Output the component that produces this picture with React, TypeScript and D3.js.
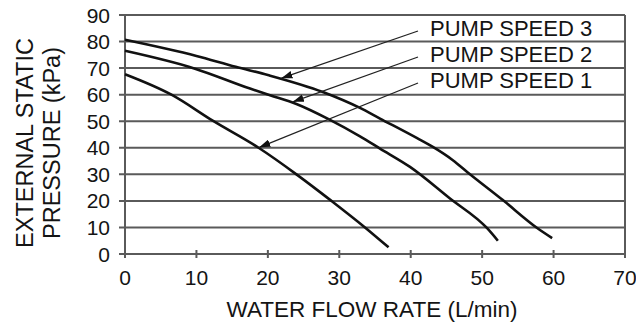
import { useEffect, useRef } from 'react'
import * as d3 from 'd3'

// flow rate (L/min) and pressure (kPa)
const flow1 = [0, 6.5, 12.4, 18.7, 24, 28.9, 33.6, 36.9]
const speed1 = [67.7, 60, 50, 40, 30, 20, 10, 2.5]

const flow2 = [0, 9.8, 17.5, 20.3, 24, 28.5, 32.9, 35.7, 39.9, 45.5, 50.7, 52.2]
const speed2 = [76.5, 69.8, 62.3, 59.8, 56.5, 50.8, 44.3, 39.7, 32.8, 20.9, 9.7, 5]

const flow3 = [0, 10, 15.5, 20, 27.7, 32.9, 35.7, 40.9, 43.1, 45.9, 47.9, 52.9, 57.7, 59.8]
const speed3 = [80.7, 74.6, 70.5, 67.4, 61, 55, 51, 43.6, 40.3, 35.3, 30.9, 20.3, 9.8, 6]

const labels = ['PUMP SPEED 3', 'PUMP SPEED 2', 'PUMP SPEED 1']
const arrowAt = [21.9, 23.5, 18.8] // flow where each leader hits its curve

const xTicks = [0, 10, 20, 30, 40, 50, 60, 70]
const yTicks = [0, 10, 20, 30, 40, 50, 60, 70, 80, 90]

const FONT = '"Liberation Sans", Arial, Helvetica, sans-serif'

const App = () => {
	const svgRef = useRef(null)

	useEffect(() => {
		const width = 636
		const height = 329
		const margin = { top: 15, right: 11, bottom: 75, left: 125 }

		const svg = d3.select(svgRef.current)
		svg.selectAll('*').remove()

		const x = d3.scaleLinear().domain([0, 70]).range([margin.left, width - margin.right])
		const y = d3.scaleLinear().domain([0, 90]).range([height - margin.bottom, margin.top])

		const grid = '#5a5a5a'
		const ink = '#141414'

		// horizontal grid lines (extend a bit left of the axis as ticks)
		svg
			.append('g')
			.selectAll('line')
			.data(yTicks)
			.join('line')
			.attr('x1', x(0) - 6)
			.attr('x2', x(70))
			.attr('y1', (d) => y(d))
			.attr('y2', (d) => y(d))
			.attr('stroke', grid)
			.attr('stroke-width', 2)

		// left axis + right border
		;[0, 70].forEach((v) => {
			svg
				.append('line')
				.attr('x1', x(v))
				.attr('x2', x(v))
				.attr('y1', y(90))
				.attr('y2', y(0) + 4)
				.attr('stroke', grid)
				.attr('stroke-width', 2)
		})

		// x ticks crossing the axis
		svg
			.append('g')
			.selectAll('line')
			.data(xTicks)
			.join('line')
			.attr('x1', (d) => x(d))
			.attr('x2', (d) => x(d))
			.attr('y1', y(0) - 4)
			.attr('y2', y(0) + 4)
			.attr('stroke', grid)
			.attr('stroke-width', 2)

		// tick labels
		svg
			.append('g')
			.selectAll('text')
			.data(yTicks)
			.join('text')
			.attr('x', x(0) - 15)
			.attr('y', (d) => y(d) + 7.5)
			.attr('text-anchor', 'end')
			.attr('font-size', 21)
			.attr('font-family', FONT)
			.attr('fill', ink)
			.text((d) => d)

		svg
			.append('g')
			.selectAll('text')
			.data(xTicks)
			.join('text')
			.attr('x', (d) => x(d))
			.attr('y', y(0) + 31)
			.attr('text-anchor', 'middle')
			.attr('font-size', 21)
			.attr('font-family', FONT)
			.attr('fill', ink)
			.text((d) => d)

		// axis titles
		svg
			.append('text')
			.attr('x', (x(0) + x(70)) / 2 - 3)
			.attr('y', 317)
			.attr('text-anchor', 'middle')
			.attr('font-size', 22.5)
			.attr('font-family', FONT)
			.attr('fill', ink)
			.text('WATER FLOW RATE (L/min)')

		const yTitle = svg
			.append('text')
			.attr('transform', 'translate(33,143) rotate(-90)')
			.attr('text-anchor', 'middle')
			.attr('font-size', 23.5)
			.attr('font-family', FONT)
			.attr('fill', ink)
		yTitle.append('tspan').attr('x', 0).attr('y', 0).text('EXTERNAL STATIC')
		yTitle.append('tspan').attr('x', 0).attr('y', 27).text('PRESSURE (kPa)')

		// curves
		const series = [
			{ xs: flow3, ys: speed3 },
			{ xs: flow2, ys: speed2 },
			{ xs: flow1, ys: speed1 },
		]
		const line = d3
			.line()
			.x((d) => x(d[0]))
			.y((d) => y(d[1]))
			.curve(d3.curveMonotoneX)

		series.forEach((s) => {
			svg
				.append('path')
				.datum(s.xs.map((v, i) => [v, s.ys[i]]))
				.attr('d', line)
				.attr('fill', 'none')
				.attr('stroke', '#111')
				.attr('stroke-width', 2.6)
		})

		// arrowhead
		svg
			.append('defs')
			.append('marker')
			.attr('id', 'arrow')
			.attr('viewBox', '0 -4 11 8')
			.attr('refX', 11)
			.attr('refY', 0)
			.attr('markerWidth', 11)
			.attr('markerHeight', 8)
			.attr('markerUnits', 'userSpaceOnUse')
			.attr('orient', 'auto')
			.append('path')
			.attr('d', 'M0,-3.8L11,0L0,3.8Z')
			.attr('fill', '#111')

		// labels + leaders
		const baselines = [36, 62, 88]
		labels.forEach((lab, i) => {
			svg
				.append('text')
				.attr('x', 430)
				.attr('y', baselines[i])
				.attr('font-size', 22)
				.attr('font-family', FONT)
				.attr('fill', ink)
				.text(lab)

			const s = series[i]
			const fx = arrowAt[i]
			const fy = d3.scaleLinear().domain(s.xs).range(s.ys)(fx)
			svg
				.append('line')
				.attr('x1', 418)
				.attr('y1', baselines[i] - 5)
				.attr('x2', x(fx))
				.attr('y2', y(fy) - 1)
				.attr('stroke', '#222')
				.attr('stroke-width', 1.3)
				.attr('marker-end', 'url(#arrow)')
		})
	}, [])

	return (
		<svg
			ref={svgRef}
			width={636}
			height={329}
			style={{ position: 'absolute', left: 0, top: 0, background: '#fff' }}
		></svg>
	)
}

export default App
